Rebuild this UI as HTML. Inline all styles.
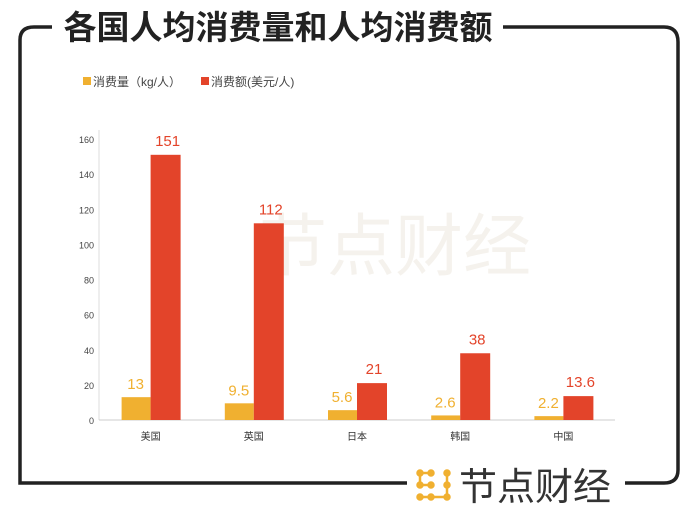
<!DOCTYPE html>
<html><head><meta charset="utf-8"><style>
body{margin:0;background:#fff;width:700px;height:518px;overflow:hidden;font-family:"Liberation Sans","Noto Sans CJK SC",sans-serif;}
</style></head><body>
<svg width="700" height="518" xmlns="http://www.w3.org/2000/svg">
<path d="M20,118 L20,40 Q20,27 34,27 L52,27" fill="none" stroke="#222" stroke-width="3.5"/>
<path d="M503,27 L664,27 Q678,27 678,42 L678,470 Q678,483 664,483 L625,483" fill="none" stroke="#222" stroke-width="3.5"/>
<path d="M20,118 L20,483 L407,483" fill="none" stroke="#222" stroke-width="3.5"/>
<text x="278" y="39" text-anchor="middle" font-size="33" font-weight="bold" fill="#222" font-family="Noto Sans CJK SC,sans-serif">各国人均消费量和人均消费额</text>
<text x="395" y="270" text-anchor="middle" font-size="68" fill="#f5f2ed" font-family="Noto Sans CJK SC,sans-serif">节点财经</text>
<g>
<rect x="83" y="77" width="8" height="8" fill="#f0b030"/>
<text x="93" y="86" font-size="12" fill="#444">消费量（kg/人）</text>
<rect x="201" y="77" width="8" height="8" fill="#e3442a"/>
<text x="211" y="86" font-size="12" fill="#444">消费额(美元/人)</text>
</g>
<g id="plot"></g>
<g>
<g fill="#f0b030" stroke="#f0b030" stroke-width="2.5">
<line x1="420" y1="473" x2="431" y2="473"/><line x1="420" y1="473" x2="420" y2="485"/><line x1="420" y1="485" x2="431" y2="485"/>
<line x1="447" y1="473" x2="447" y2="497"/><line x1="420" y1="497" x2="447" y2="497"/>
<circle cx="420" cy="473" r="2.5"/><circle cx="431" cy="473" r="2.5"/><circle cx="447" cy="473" r="2.5"/><circle cx="420" cy="485" r="2.5"/><circle cx="431" cy="485" r="2.5"/><circle cx="447" cy="485" r="2.5"/><circle cx="420" cy="497" r="2.5"/><circle cx="431" cy="497" r="2.5"/><circle cx="447" cy="497" r="2.5"/>
</g>
<text x="459" y="500" font-size="38" fill="#333" font-family="Noto Sans CJK SC,sans-serif">节点财经</text>
</g>
</svg>
<script>
const categories=["美国","英国","日本","韩国","中国"];
const volume=[13,9.5,5.6,2.6,2.2];
const spend=[151,112,21,38,13.6];
const ticks=[0,20,40,60,80,100,120,140,160];
const NS="http://www.w3.org/2000/svg";
const g=document.getElementById('plot');
const y0=420,yTop=139,x0=99,x1=615;
const y=v=>y0-(v/160)*(y0-yTop);
const step=(x1-x0)/categories.length;
const cx=i=>x0+step*(i+0.5);
function el(t,a,txt){const e=document.createElementNS(NS,t);for(const k in a)e.setAttribute(k,a[k]);if(txt!==undefined)e.textContent=txt;g.appendChild(e);return e;}
const ya=el('line',{x1:x0,y1:y0,x2:x0,y2:130,stroke:'#ddd','stroke-width':1});


const xa=el('line',{x1:x0,y1:y0,x2:x1,y2:y0,stroke:'#ccc','stroke-width':1});


ticks.forEach(t=>{const e=el('text',{x:94,y:y(t)+4,'text-anchor':'end','font-size':9,fill:'#444'},String(t));

});
categories.forEach((c,i)=>{
const c0=cx(i);
const b1=el('rect',{x:c0-29,y:y(volume[i]),width:29,height:y0-y(volume[i]),fill:'#f0b030'});


const b2=el('rect',{x:c0,y:y(spend[i]),width:30,height:y0-y(spend[i]),fill:'#e3442a'});


const l1=el('text',{x:c0-15,y:y(volume[i])-8,'text-anchor':'middle','font-size':15,fill:'#f0b030'},String(volume[i]));


const l2=el('text',{x:c0+17,y:y(spend[i])-9,'text-anchor':'middle','font-size':15,fill:'#e3442a'},String(spend[i]));


const cl=el('text',{x:c0,y:y0+20,'text-anchor':'middle','font-size':10,fill:'#333'},c);


});
</script>
</body></html>
